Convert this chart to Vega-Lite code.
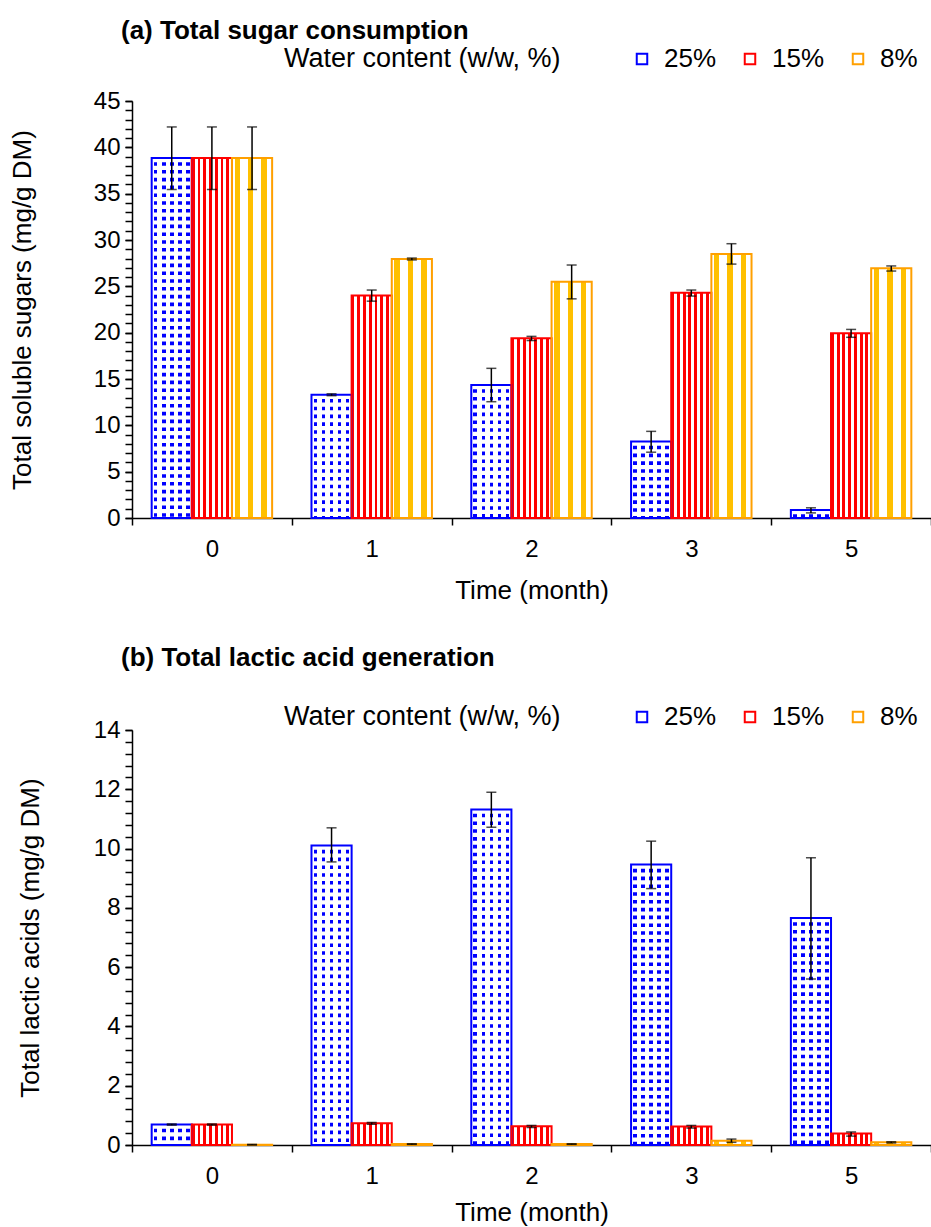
{
  "$schema": "https://vega.github.io/schema/vega-lite/v6.json",
  "padding": {"left": 9, "top": 18, "right": 0, "bottom": 5},
  "spacing": 42,
  "resolve": {"scale": {"stroke": "independent"}, "legend": {"stroke": "independent"}},
  "config": {
    "font": "Liberation Sans",
    "view": {"stroke": null},
    "axis": {"grid": false, "labelColor": "black", "titleColor": "black", "domainColor": "black", "tickColor": "black", "domainWidth": 1.5, "tickWidth": 1.5, "titleFontWeight": "normal", "labelOverlap": false}
  },
  "datasets": {
    "sugar": [
      {"time": "0", "water": "25%", "value": 38.85, "lo": 35.45, "hi": 42.2},
      {"time": "0", "water": "15%", "value": 38.85, "lo": 35.45, "hi": 42.2},
      {"time": "0", "water": "8%", "value": 38.85, "lo": 35.45, "hi": 42.2},
      {"time": "1", "water": "25%", "value": 13.3, "lo": 13.2, "hi": 13.4},
      {"time": "1", "water": "15%", "value": 24.0, "lo": 23.4, "hi": 24.6},
      {"time": "1", "water": "8%", "value": 27.95, "lo": 27.85, "hi": 28.05},
      {"time": "2", "water": "25%", "value": 14.35, "lo": 12.55, "hi": 16.15},
      {"time": "2", "water": "15%", "value": 19.4, "lo": 19.15, "hi": 19.6},
      {"time": "2", "water": "8%", "value": 25.5, "lo": 23.65, "hi": 27.3},
      {"time": "3", "water": "25%", "value": 8.25, "lo": 7.1, "hi": 9.35},
      {"time": "3", "water": "15%", "value": 24.3, "lo": 23.95, "hi": 24.6},
      {"time": "3", "water": "8%", "value": 28.5, "lo": 27.4, "hi": 29.6},
      {"time": "5", "water": "25%", "value": 0.85, "lo": 0.55, "hi": 1.1},
      {"time": "5", "water": "15%", "value": 19.95, "lo": 19.5, "hi": 20.35},
      {"time": "5", "water": "8%", "value": 26.95, "lo": 26.65, "hi": 27.2}
    ],
    "lactic": [
      {"time": "0", "water": "25%", "value": 0.69, "lo": 0.67, "hi": 0.71},
      {"time": "0", "water": "15%", "value": 0.69, "lo": 0.67, "hi": 0.71},
      {"time": "0", "water": "8%", "value": 0.01, "lo": 0.0, "hi": 0.02},
      {"time": "1", "water": "25%", "value": 10.1, "lo": 9.55, "hi": 10.7},
      {"time": "1", "water": "15%", "value": 0.73, "lo": 0.7, "hi": 0.76},
      {"time": "1", "water": "8%", "value": 0.03, "lo": 0.02, "hi": 0.04},
      {"time": "2", "water": "25%", "value": 11.32, "lo": 10.72, "hi": 11.9},
      {"time": "2", "water": "15%", "value": 0.63, "lo": 0.59, "hi": 0.66},
      {"time": "2", "water": "8%", "value": 0.03, "lo": 0.02, "hi": 0.04},
      {"time": "3", "water": "25%", "value": 9.46, "lo": 8.65, "hi": 10.25},
      {"time": "3", "water": "15%", "value": 0.62, "lo": 0.57, "hi": 0.66},
      {"time": "3", "water": "8%", "value": 0.145, "lo": 0.09, "hi": 0.2},
      {"time": "5", "water": "25%", "value": 7.66, "lo": 5.6, "hi": 9.69},
      {"time": "5", "water": "15%", "value": 0.39, "lo": 0.3, "hi": 0.44},
      {"time": "5", "water": "8%", "value": 0.09, "lo": 0.07, "hi": 0.11}
    ]
  },
  "vconcat": [
    {
      "data": {"name": "sugar"},
      "width": 799,
      "height": 417,
      "title": {"text": "(a) Total sugar consumption", "anchor": "start", "frame": "group", "fontSize": 26, "fontWeight": "bold", "color": "black", "dx": -11, "offset": 2},
      "resolve": {"axis": {"y": "independent"}},
      "encoding": {
        "x": {"field": "time", "type": "nominal", "sort": ["0", "1", "2", "3", "5"], "scale": {"paddingInner": 0, "paddingOuter": 0},
              "axis": {"title": "Time (month)", "labelAngle": 0, "tickBand": "extent", "tickSize": 7, "labelFontSize": 24, "labelPadding": 12, "titleFontSize": 26, "titlePadding": 16}},
        "xOffset": {"field": "water", "type": "nominal", "scale": {"domain": ["25%", "15%", "8%"], "paddingInner": 0, "paddingOuter": 0.49}}
      },
      "layer": [
        {
          "mark": {"type": "bar", "strokeWidth": 0},
          "encoding": {
            "y": {"field": "value", "type": "quantitative", "title": "Total soluble sugars (mg/g DM)", "scale": {"domain": [0, 45], "nice": false},
                  "axis": {"orient": "left", "values": [0, 5, 10, 15, 20, 25, 30, 35, 40, 45], "tickSize": 7, "labelFontSize": 24, "labelPadding": 5, "titleFontSize": 26, "titlePadding": 58}},
            "fill": {
              "condition": [
                {"test": "datum.water === '25%'", "value": {"gradient": "linear", "x1": 0, "y1": 0, "x2": 1, "y2": 0, "stops": [
                  {"offset": 0, "color": "white"}, {"offset": 0.055, "color": "white"}, {"offset": 0.055, "color": "#0000ff"}, {"offset": 0.145, "color": "#0000ff"},
                  {"offset": 0.145, "color": "white"}, {"offset": 0.255, "color": "white"}, {"offset": 0.255, "color": "#0000ff"}, {"offset": 0.345, "color": "#0000ff"},
                  {"offset": 0.345, "color": "white"}, {"offset": 0.455, "color": "white"}, {"offset": 0.455, "color": "#0000ff"}, {"offset": 0.545, "color": "#0000ff"},
                  {"offset": 0.545, "color": "white"}, {"offset": 0.655, "color": "white"}, {"offset": 0.655, "color": "#0000ff"}, {"offset": 0.745, "color": "#0000ff"},
                  {"offset": 0.745, "color": "white"}, {"offset": 0.855, "color": "white"}, {"offset": 0.855, "color": "#0000ff"}, {"offset": 0.945, "color": "#0000ff"},
                  {"offset": 0.945, "color": "white"}, {"offset": 1, "color": "white"}]}},
                {"test": "datum.water === '15%'", "value": {"gradient": "linear", "x1": 0, "y1": 0, "x2": 1, "y2": 0, "stops": [
                  {"offset": 0, "color": "#ff0000"}, {"offset": 0.0714, "color": "#ff0000"}, {"offset": 0.0714, "color": "white"}, {"offset": 0.1429, "color": "white"},
                  {"offset": 0.1429, "color": "#ff0000"}, {"offset": 0.2143, "color": "#ff0000"}, {"offset": 0.2143, "color": "white"}, {"offset": 0.2857, "color": "white"},
                  {"offset": 0.2857, "color": "#ff0000"}, {"offset": 0.3571, "color": "#ff0000"}, {"offset": 0.3571, "color": "white"}, {"offset": 0.4286, "color": "white"},
                  {"offset": 0.4286, "color": "#ff0000"}, {"offset": 0.5, "color": "#ff0000"}, {"offset": 0.5, "color": "white"}, {"offset": 0.5714, "color": "white"},
                  {"offset": 0.5714, "color": "#ff0000"}, {"offset": 0.6429, "color": "#ff0000"}, {"offset": 0.6429, "color": "white"}, {"offset": 0.7143, "color": "white"},
                  {"offset": 0.7143, "color": "#ff0000"}, {"offset": 0.7857, "color": "#ff0000"}, {"offset": 0.7857, "color": "white"}, {"offset": 0.8571, "color": "white"},
                  {"offset": 0.8571, "color": "#ff0000"}, {"offset": 0.9286, "color": "#ff0000"}, {"offset": 0.9286, "color": "white"}, {"offset": 1, "color": "white"}]}}
              ],
              "value": {"gradient": "linear", "x1": 0, "y1": 0, "x2": 1, "y2": 0, "stops": [
                {"offset": 0, "color": "white"}, {"offset": 0.0667, "color": "white"}, {"offset": 0.0667, "color": "#ffc000"}, {"offset": 0.2, "color": "#ffc000"},
                {"offset": 0.2, "color": "white"}, {"offset": 0.4, "color": "white"}, {"offset": 0.4, "color": "#ffc000"}, {"offset": 0.5333, "color": "#ffc000"},
                {"offset": 0.5333, "color": "white"}, {"offset": 0.7333, "color": "white"}, {"offset": 0.7333, "color": "#ffc000"}, {"offset": 0.8667, "color": "#ffc000"},
                {"offset": 0.8667, "color": "white"}, {"offset": 1, "color": "white"}]}
            }
          }
        },
        {
          "transform": [{"filter": "datum.water === '25%'"}],
          "mark": {"type": "rule", "color": "white", "strokeWidth": 38, "strokeDash": [4.2, 3.6]},
          "encoding": {
            "y": {"field": "value", "type": "quantitative",
                  "axis": {"orient": "left", "title": null, "labels": false, "domain": false, "tickSize": 7,
                           "values": [0,1,2,3,4,5,6,7,8,9,10,11,12,13,14,15,16,17,18,19,20,21,22,23,24,25,26,27,28,29,30,31,32,33,34,35,36,37,38,39,40,41,42,43,44,45]}},
            "y2": {"datum": 0}
          }
        },
        {
          "mark": {"type": "bar", "fill": "transparent", "strokeWidth": 2},
          "encoding": {
            "y": {"field": "value", "type": "quantitative", "axis": null},
            "stroke": {"field": "water", "type": "nominal", "scale": {"domain": ["25%", "15%", "8%"], "range": ["#0000ff", "#ff0000", "#ffa000"]},
              "legend": {"orient": "none", "legendX": 152, "legendY": -55, "direction": "horizontal", "title": "Water content (w/w, %)", "titleOrient": "left", "titleLimit": 500,
                "titleFontSize": 27, "titleFontWeight": "normal", "titleColor": "black", "titlePadding": 68, "titleBaseline": "middle",
                "labelFontSize": 26, "labelColor": "black", "symbolType": "square", "symbolSize": 110, "symbolStrokeWidth": 2, "symbolFillColor": "white",
                "labelOffset": 9, "columnPadding": 20, "labelExpr": "datum.label === '8%' ? '\u2007\u2009 8%' : datum.label"}}
          }
        },
        {
          "mark": {"type": "rule", "color": "black", "strokeWidth": 1.5},
          "encoding": {
            "y": {"field": "lo", "type": "quantitative", "axis": null},
            "y2": {"field": "hi"}
          }
        },
        {
          "mark": {"type": "tick", "color": "black", "thickness": 1.5, "size": 10},
          "encoding": {"y": {"field": "lo", "type": "quantitative", "axis": null}}
        },
        {
          "mark": {"type": "tick", "color": "black", "thickness": 1.5, "size": 10},
          "encoding": {"y": {"field": "hi", "type": "quantitative", "axis": null}}
        }
      ]
    },
    {
      "data": {"name": "lactic"},
      "width": 799,
      "height": 415,
      "title": {"text": "(b) Total lactic acid generation", "anchor": "start", "frame": "group", "fontSize": 26, "fontWeight": "bold", "color": "black", "dx": -11, "offset": 33},
      "resolve": {"axis": {"y": "independent"}},
      "encoding": {
        "x": {"field": "time", "type": "nominal", "sort": ["0", "1", "2", "3", "5"], "scale": {"paddingInner": 0, "paddingOuter": 0},
              "axis": {"title": "Time (month)", "labelAngle": 0, "tickBand": "extent", "tickSize": 7, "labelFontSize": 24, "labelPadding": 12, "titleFontSize": 26, "titlePadding": 11}},
        "xOffset": {"field": "water", "type": "nominal", "scale": {"domain": ["25%", "15%", "8%"], "paddingInner": 0, "paddingOuter": 0.49}}
      },
      "layer": [
        {
          "mark": {"type": "bar", "strokeWidth": 0},
          "encoding": {
            "y": {"field": "value", "type": "quantitative", "title": "Total lactic acids (mg/g DM)", "scale": {"domain": [0, 14], "nice": false},
                  "axis": {"orient": "left", "values": [0, 2, 4, 6, 8, 10, 12, 14], "tickSize": 7, "labelFontSize": 24, "labelPadding": 5, "titleFontSize": 26, "titlePadding": 50}},
            "fill": {
              "condition": [
                {"test": "datum.water === '25%'", "value": {"gradient": "linear", "x1": 0, "y1": 0, "x2": 1, "y2": 0, "stops": [
                  {"offset": 0, "color": "white"}, {"offset": 0.055, "color": "white"}, {"offset": 0.055, "color": "#0000ff"}, {"offset": 0.145, "color": "#0000ff"},
                  {"offset": 0.145, "color": "white"}, {"offset": 0.255, "color": "white"}, {"offset": 0.255, "color": "#0000ff"}, {"offset": 0.345, "color": "#0000ff"},
                  {"offset": 0.345, "color": "white"}, {"offset": 0.455, "color": "white"}, {"offset": 0.455, "color": "#0000ff"}, {"offset": 0.545, "color": "#0000ff"},
                  {"offset": 0.545, "color": "white"}, {"offset": 0.655, "color": "white"}, {"offset": 0.655, "color": "#0000ff"}, {"offset": 0.745, "color": "#0000ff"},
                  {"offset": 0.745, "color": "white"}, {"offset": 0.855, "color": "white"}, {"offset": 0.855, "color": "#0000ff"}, {"offset": 0.945, "color": "#0000ff"},
                  {"offset": 0.945, "color": "white"}, {"offset": 1, "color": "white"}]}},
                {"test": "datum.water === '15%'", "value": {"gradient": "linear", "x1": 0, "y1": 0, "x2": 1, "y2": 0, "stops": [
                  {"offset": 0, "color": "#ff0000"}, {"offset": 0.0714, "color": "#ff0000"}, {"offset": 0.0714, "color": "white"}, {"offset": 0.1429, "color": "white"},
                  {"offset": 0.1429, "color": "#ff0000"}, {"offset": 0.2143, "color": "#ff0000"}, {"offset": 0.2143, "color": "white"}, {"offset": 0.2857, "color": "white"},
                  {"offset": 0.2857, "color": "#ff0000"}, {"offset": 0.3571, "color": "#ff0000"}, {"offset": 0.3571, "color": "white"}, {"offset": 0.4286, "color": "white"},
                  {"offset": 0.4286, "color": "#ff0000"}, {"offset": 0.5, "color": "#ff0000"}, {"offset": 0.5, "color": "white"}, {"offset": 0.5714, "color": "white"},
                  {"offset": 0.5714, "color": "#ff0000"}, {"offset": 0.6429, "color": "#ff0000"}, {"offset": 0.6429, "color": "white"}, {"offset": 0.7143, "color": "white"},
                  {"offset": 0.7143, "color": "#ff0000"}, {"offset": 0.7857, "color": "#ff0000"}, {"offset": 0.7857, "color": "white"}, {"offset": 0.8571, "color": "white"},
                  {"offset": 0.8571, "color": "#ff0000"}, {"offset": 0.9286, "color": "#ff0000"}, {"offset": 0.9286, "color": "white"}, {"offset": 1, "color": "white"}]}}
              ],
              "value": {"gradient": "linear", "x1": 0, "y1": 0, "x2": 1, "y2": 0, "stops": [
                {"offset": 0, "color": "white"}, {"offset": 0.0667, "color": "white"}, {"offset": 0.0667, "color": "#ffc000"}, {"offset": 0.2, "color": "#ffc000"},
                {"offset": 0.2, "color": "white"}, {"offset": 0.4, "color": "white"}, {"offset": 0.4, "color": "#ffc000"}, {"offset": 0.5333, "color": "#ffc000"},
                {"offset": 0.5333, "color": "white"}, {"offset": 0.7333, "color": "white"}, {"offset": 0.7333, "color": "#ffc000"}, {"offset": 0.8667, "color": "#ffc000"},
                {"offset": 0.8667, "color": "white"}, {"offset": 1, "color": "white"}]}
            }
          }
        },
        {
          "transform": [{"filter": "datum.water === '25%'"}],
          "mark": {"type": "rule", "color": "white", "strokeWidth": 38, "strokeDash": [4.2, 3.6]},
          "encoding": {
            "y": {"field": "value", "type": "quantitative",
                  "axis": {"orient": "left", "title": null, "labels": false, "domain": false, "tickSize": 7,
                           "values": [0,0.4,0.8,1.2,1.6,2,2.4,2.8,3.2,3.6,4,4.4,4.8,5.2,5.6,6,6.4,6.8,7.2,7.6,8,8.4,8.8,9.2,9.6,10,10.4,10.8,11.2,11.6,12,12.4,12.8,13.2,13.6,14]}},
            "y2": {"datum": 0}
          }
        },
        {
          "mark": {"type": "bar", "fill": "transparent", "strokeWidth": 2},
          "encoding": {
            "y": {"field": "value", "type": "quantitative", "axis": null},
            "stroke": {"field": "water", "type": "nominal", "scale": {"domain": ["25%", "15%", "8%"], "range": ["#0000ff", "#ff0000", "#ffa000"]},
              "legend": {"orient": "none", "legendX": 152, "legendY": -26, "direction": "horizontal", "title": "Water content (w/w, %)", "titleOrient": "left", "titleLimit": 500,
                "titleFontSize": 27, "titleFontWeight": "normal", "titleColor": "black", "titlePadding": 68, "titleBaseline": "middle",
                "labelFontSize": 26, "labelColor": "black", "symbolType": "square", "symbolSize": 110, "symbolStrokeWidth": 2, "symbolFillColor": "white",
                "labelOffset": 9, "columnPadding": 20, "labelExpr": "datum.label === '8%' ? '\u2007\u2009 8%' : datum.label"}}
          }
        },
        {
          "mark": {"type": "rule", "color": "black", "strokeWidth": 1.5},
          "encoding": {
            "y": {"field": "lo", "type": "quantitative", "axis": null},
            "y2": {"field": "hi"}
          }
        },
        {
          "mark": {"type": "tick", "color": "black", "thickness": 1.5, "size": 10},
          "encoding": {"y": {"field": "lo", "type": "quantitative", "axis": null}}
        },
        {
          "mark": {"type": "tick", "color": "black", "thickness": 1.5, "size": 10},
          "encoding": {"y": {"field": "hi", "type": "quantitative", "axis": null}}
        }
      ]
    }
  ]
}
